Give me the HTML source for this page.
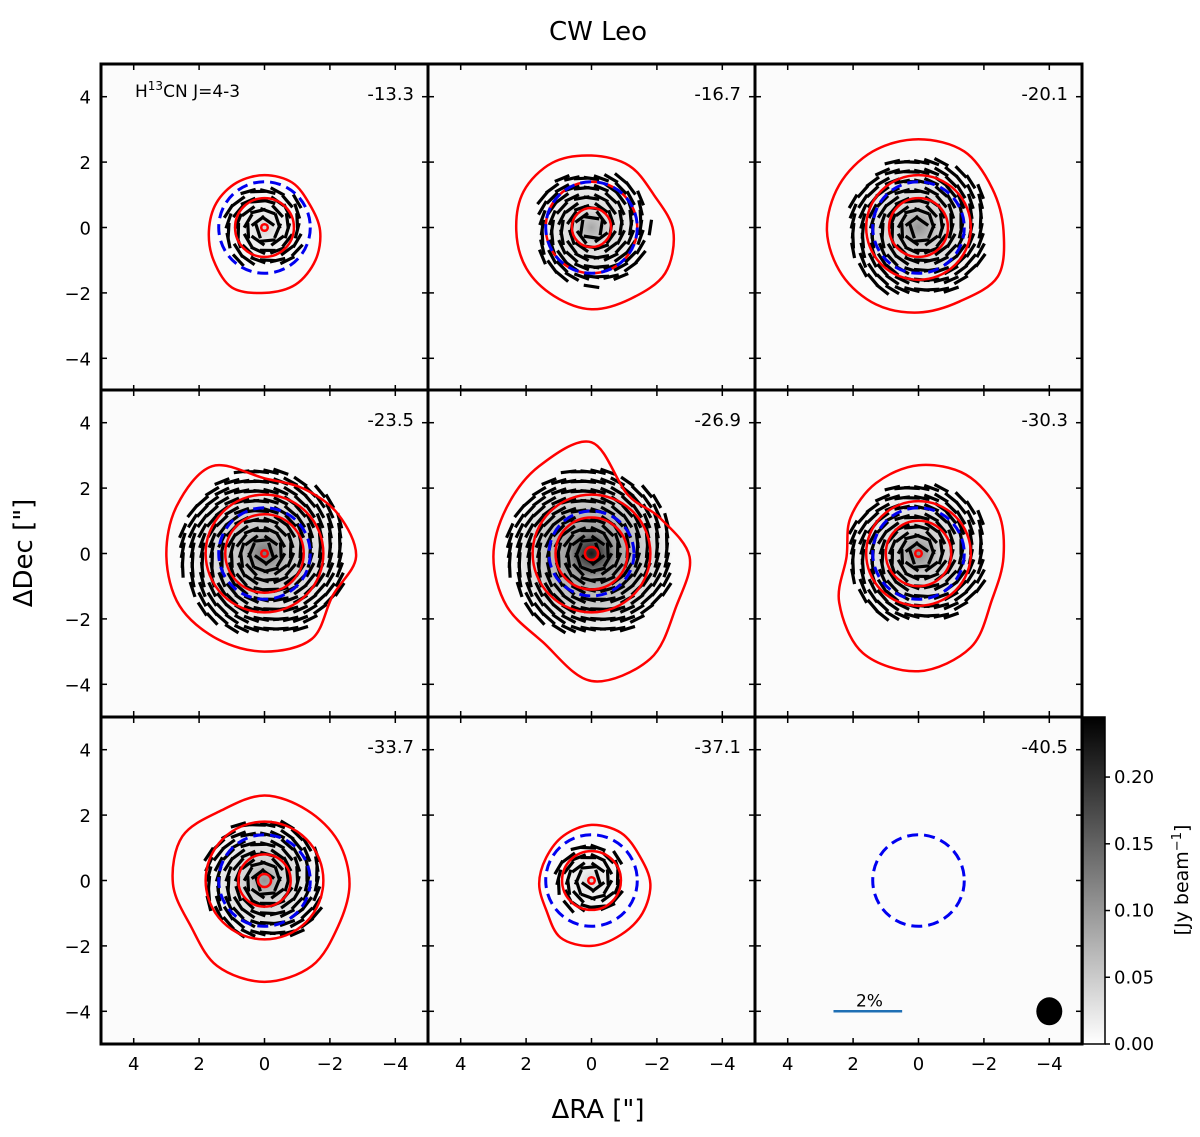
<!DOCTYPE html>
<html><head><meta charset="utf-8"><style>
body{margin:0;background:#fff;}
svg text{font-family:"DejaVu Sans","Liberation Sans",sans-serif;}
</style></head><body>
<svg id="fig" width="1200" height="1132" viewBox="0 0 1200 1132" xmlns="http://www.w3.org/2000/svg">
<defs>
<linearGradient id="cbar" x1="0" y1="1" x2="0" y2="0"><stop offset="0" stop-color="#fff"/><stop offset="1" stop-color="#000"/></linearGradient>
</defs>
<text x="598" y="40" font-size="26" text-anchor="middle">CW Leo</text>
<text x="598" y="1118" font-size="26" text-anchor="middle">ΔRA ["]</text>
<text transform="translate(32,553) rotate(-90)" font-size="26" text-anchor="middle">ΔDec ["]</text>
<g id="panels"></g>
<g id="cb"></g>
</svg>
<script>
const channels=["-13.3","-16.7","-20.1","-23.5","-26.9","-30.3","-33.7","-37.1","-40.5"];
const peakIntensity=[0.04,0.08,0.10,0.13,0.22,0.11,0.10,0.04,0.0];
// outer red contour radii (arcsec) at screen angles 0,30,...,330 deg (0 = right, CCW)
const outerContour=[
 [1.7,1.6,1.7,1.7,1.7,1.7,1.7,1.8,2.0,1.9,1.9,1.8],
 [2.5,2.2,2.3,2.3,2.4,2.4,2.3,2.3,2.3,2.4,2.4,2.6],
 [2.6,2.6,2.8,2.8,2.8,2.8,2.8,2.7,2.6,2.5,2.5,2.8],
 [2.8,2.6,2.4,2.4,3.2,3.1,3.0,3.0,2.9,2.9,2.9,2.4],
 [3.0,2.4,2.2,3.5,3.2,3.0,3.0,3.0,3.0,3.8,3.6,3.0],
 [2.6,2.8,2.9,2.8,2.6,2.4,2.2,2.8,3.4,3.5,3.2,2.6],
 [2.6,2.6,2.6,2.7,2.6,2.9,2.8,2.6,2.9,3.0,2.9,2.6],
 [1.8,1.7,1.8,1.8,1.7,1.6,1.6,1.6,1.9,1.9,1.8,1.8],
 null];
const innerContour=[[0.9,0.1],[1.4,0.6],[1.6,0.9],[1.8,1.2,0.1],[1.8,1.1,0.2],[1.6,1.0,0.1],[1.8,0.8,0.2],[0.9,0.1],[]];
const blueRadius=[1.4,1.4,1.4,1.4,1.3,1.4,1.4,1.4,1.4];
const vectorExtent=[1.3,1.8,2.2,2.6,2.6,2.2,1.9,1.1,0];
const tickVals=[4,2,0,-2,-4];
const cbTicks=[0.00,0.05,0.10,0.15,0.20];

const NS="http://www.w3.org/2000/svg";
const svg=document.getElementById('panels');
function mk(tag,attrs,parent){const e=document.createElementNS(NS,tag);for(const k in attrs)e.setAttribute(k,attrs[k]);parent.appendChild(e);return e;}
const P0x=[101,428,755],P0y=[64,390,717],S=327,U=32.7;
function smoothPath(pts){let d="";const n=pts.length;
 for(let i=0;i<n;i++){const p0=pts[(i-1+n)%n],p1=pts[i],p2=pts[(i+1)%n],p3=pts[(i+2)%n];
  if(i==0)d+=`M${p1[0]},${p1[1]}`;
  d+=`C${p1[0]+(p2[0]-p0[0])/6},${p1[1]+(p2[1]-p0[1])/6} ${p2[0]-(p3[0]-p1[0])/6},${p2[1]-(p3[1]-p1[1])/6} ${p2[0]},${p2[1]}`;}
 return d+"Z";}
channels.forEach((ch,i)=>{
 const c=i%3,r=Math.floor(i/3),ox=P0x[c],oy=P0y[r];
 const X=x=>ox+S/2-x*U, Y=y=>oy+S/2-y*U;
 const g=mk('g',{},svg);
 
 
 mk('rect',{x:ox,y:oy,width:S,height:S,fill:'#fbfbfb'},g);
 const gid='rg'+i;const defs=mk('defs',{},g);
 const rg=mk('radialGradient',{id:gid},defs);
 const a=peakIntensity[i]/0.24;
 mk('stop',{offset:'0','stop-color':'#000','stop-opacity':a},rg);
 mk('stop',{offset:'0.3','stop-color':'#000','stop-opacity':a*0.4},rg);
 mk('stop',{offset:'1','stop-color':'#000','stop-opacity':0},rg);
 if(peakIntensity[i]>0){const blob=mk('circle',{cx:X(0),cy:Y(0),r:vectorExtent[i]*U*0.95,fill:`url(#${gid})`},g);
  }
 const R=vectorExtent[i];
 if(R>0){const vg=mk('g',{stroke:'#000','stroke-width':3.2,'stroke-linecap':'butt'},g);
  
  for(let x=-R;x<=R+1e-6;x+=0.3)for(let y=-R;y<=R+1e-6;y+=0.3){
   const rr=Math.hypot(x,y);if(rr>R||rr<0.15)continue;
   const th=Math.atan2(y,x)+Math.PI/2+0.15;const L=0.24;
   mk('line',{x1:X(x-L*Math.cos(th)),y1:Y(y-L*Math.sin(th)),x2:X(x+L*Math.cos(th)),y2:Y(y+L*Math.sin(th))},vg);}}
 if(outerContour[i]){const pts=outerContour[i].map((rv,k)=>{const t=k*Math.PI/6;return [X(-rv*Math.cos(t)),Y(rv*Math.sin(t)-0.1)];});
  const p=mk('path',{d:smoothPath(pts),fill:'none',stroke:'#f00','stroke-width':2.5},g);
  }
 innerContour[i].forEach(rv=>{const e=mk('circle',{cx:X(0),cy:Y(0),r:rv*U,fill:'none',stroke:'#f00','stroke-width':2.5},g);
  });
 const b=mk('circle',{cx:X(0),cy:Y(0),r:blueRadius[i]*U,fill:'none',stroke:'#0000f0','stroke-width':3,'stroke-dasharray':'11 6'},g);
 
 const tg=mk('g',{stroke:'#000','stroke-width':1.5},g);
 tickVals.forEach(v=>{mk('line',{x1:X(v),y1:oy+S,x2:X(v),y2:oy+S-6},tg);mk('line',{x1:X(v),y1:oy,x2:X(v),y2:oy+6},tg);
  mk('line',{x1:ox,y1:Y(v),x2:ox+6,y2:Y(v)},tg);mk('line',{x1:ox+S,y1:Y(v),x2:ox+S-6,y2:Y(v)},tg);});
 if(c==0)tickVals.forEach(v=>{const t=mk('text',{x:ox-10,y:Y(v)+7,'font-size':18,'text-anchor':'end'},g);t.textContent=v<0?'−'+(-v):v;
  });
 if(r==2)tickVals.forEach(v=>{const t=mk('text',{x:X(v),y:oy+S+26,'font-size':18,'text-anchor':'middle'},g);t.textContent=v<0?'−'+(-v):v;
  });
 const lab=mk('text',{x:ox+S-14,y:oy+36,'font-size':18,'text-anchor':'end'},g);lab.textContent=ch;
 
 if(i==0){const t=mk('text',{x:ox+34,y:oy+33,'font-size':17},g);
  t.innerHTML='H<tspan dy="-7" font-size="12">13</tspan><tspan dy="7">CN J=4-3</tspan>';
  }
 if(i==8){const sb=mk('line',{x1:X(2.6),y1:Y(-4),x2:X(0.5),y2:Y(-4),stroke:'#1f6fb4','stroke-width':2.5},g);
  
  const st=mk('text',{x:X(1.5),y:Y(-4)-5,'font-size':17,'text-anchor':'middle'},g);st.textContent='2%';
  
  const bm=mk('ellipse',{cx:X(-4),cy:Y(-4),rx:13,ry:14,fill:'#000'},g);
  }
 mk('rect',{x:ox,y:oy,width:S,height:S,fill:'none',stroke:'#000','stroke-width':3},g);
});
const cb=document.getElementById('cb');
const cbTop=717,cbBot=1044,cbMax=0.245;
mk('rect',{x:1083,y:cbTop,width:22,height:cbBot-cbTop,fill:'url(#cbar)',stroke:'#000','stroke-width':1.5},cb);
cbTicks.forEach(v=>{const y=cbBot-(v/cbMax)*(cbBot-cbTop);
 mk('line',{x1:1105,y1:y,x2:1110,y2:y,stroke:'#000','stroke-width':1.5},cb);
 const t=mk('text',{x:1114,y:y+6,'font-size':18},cb);t.textContent=v.toFixed(2);
 });
const cl=mk('text',{transform:'translate(1188,880) rotate(-90)','font-size':19,'text-anchor':'middle'},cb);
cl.innerHTML='[Jy beam<tspan dy="-7" font-size="13">−1</tspan><tspan dy="7">]</tspan>';

</script>
</body></html>
